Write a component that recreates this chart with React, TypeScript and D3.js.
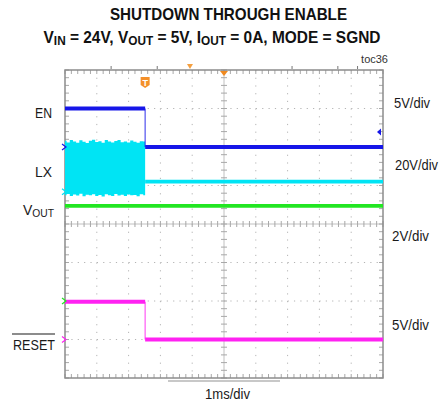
import React from "react";
import * as d3 from "d3";

const W = 443;
const H = 408;

// Horizontal: 10 divisions at 1 ms/div
const timeDomain: [number, number] = [0, 10];
const divDomain: [number, number] = [-4, 4];

// Channel settings: volts/div and ground position (div from screen centre)
const channelNames = ["EN", "LX", "VOUT", "RESET"];
const channelVoltsPerDiv = [5, 20, 2, 5];
const channelGroundDiv = [2.0, 0.84, -2.0, -3.0];
const channelColors = ["#1616e8", "#00e4f4", "#22e622", "#ff22f2"];

// EN (5V/div)
const enTime = [0, 2.52, 2.52, 10];
const enVolts = [5.0, 5.0, 0.0, 0.0];
const enTriggerLevel = 1.95;

// LX (20V/div): switching envelope before shutdown, then steady level
const lxBandTime = [0, 0.1, 0.2, 0.3, 0.4, 0.5, 0.6, 0.7, 0.8, 0.9, 1.0, 1.1, 1.2, 1.3, 1.4, 1.5, 1.6, 1.7, 1.8, 1.9, 2.0, 2.1, 2.2, 2.3, 2.4, 2.52];
const lxBandHigh = [26.4, 25.6, 26.9, 26.0, 25.4, 26.7, 25.9, 25.3, 26.5, 27.0, 25.8, 26.2, 25.4, 26.8, 26.0, 25.6, 26.3, 26.9, 25.7, 26.1, 25.5, 26.6, 25.9, 25.4, 26.2, 26.0];
const lxBandLow = [-1.8, -1.2, -2.3, -1.5, -2.0, -1.1, -2.4, -1.6, -1.9, -1.3, -2.2, -1.7, -2.5, -1.4, -1.8, -2.2, -1.2, -2.0, -1.6, -2.3, -1.5, -1.9, -1.7, -2.4, -1.3, -1.8];
const lxTime = [2.52, 10];
const lxVolts = [5.2, 5.2];

// VOUT (2V/div)
const voutTime = [0, 10];
const voutVolts = [4.94, 4.94];

// RESET (5V/div)
const resetTime = [0, 2.52, 2.52, 10];
const resetVolts = [4.9, 4.9, 0.0, 0.0];

// Scope marks along the top edge (ms)
const topMarks = [1.45, 2.9, 7.14, 8.58, 9.2];
const triggerTime = 2.52;
const orangeMarkTimes = [3.93, 5.0];

const rightLabels = ["5V/div", "20V/div", "2V/div", "5V/div"];

const FONT = "'Liberation Sans', Arial, sans-serif";

export default function App() {
  const L = 65, R = 383, T = 70, B = 378;
  const x = d3.scaleLinear().domain(timeDomain).range([L, R]);
  const yDiv = d3.scaleLinear().domain(divDomain).range([B, T]);
  const chY = (ch: number, v: number) => yDiv(channelGroundDiv[ch] + v / channelVoltsPerDiv[ch]);

  const cx = x(5);
  const cy = yDiv(0);
  const xStep = (x(1) - x(0)) * 0.2;
  const yStep = (yDiv(0) - yDiv(1)) * 0.2;

  const line = d3.line<[number, number]>().x((d) => d[0]).y((d) => d[1]);

  const stepTrace = (ch: number, ts: number[], vs: number[], key: string) => {
    const segs: JSX.Element[] = [];
    for (let i = 0; i < ts.length - 1; i++) {
      const p0: [number, number] = [x(ts[i]), chY(ch, vs[i])];
      const p1: [number, number] = [x(ts[i + 1]), chY(ch, vs[i + 1])];
      const vertical = ts[i] === ts[i + 1];
      segs.push(
        <path
          key={key + i}
          d={line([p0, p1]) || ""}
          stroke={channelColors[ch]}
          strokeWidth={vertical ? 1.2 : 3.8}
          strokeOpacity={vertical ? 0.75 : 1}
          fill="none"
        />
      );
    }
    return segs;
  };

  const band = d3
    .area<number>()
    .x((_, i) => x(lxBandTime[i]))
    .y0((_, i) => chY(1, lxBandLow[i]))
    .y1((_, i) => chY(1, lxBandHigh[i]))
    .curve(d3.curveStep);

  const xMinor = d3.range(0, 10.001, 0.2);
  const yMinor = d3.range(-4, 4.001, 0.2);

  const gridColor = "#b4b4b4";

  return (
    <svg width={W} height={H} style={{ position: "absolute", left: 0, top: 0, background: "#fff" }} fontFamily={FONT}>
      <rect x={0} y={0} width={W} height={H} fill="#fff" />
      {/* Title */}
      <g transform="translate(228.5,20) scale(0.894,1)">
        <text x={0} y={0} textAnchor="middle" fontWeight="bold" fontSize={17} fill="#111">
          SHUTDOWN THROUGH ENABLE
        </text>
      </g>
      <g transform="translate(212,43) scale(0.909,1)">
        <text x={0} y={0} textAnchor="middle" fontWeight="bold" fontSize={17} fill="#111">
          V<tspan fontSize={13} dy={1.5}>IN</tspan>
          <tspan dy={-1.5}> = 24V, V</tspan>
          <tspan fontSize={13} dy={1.5}>OUT</tspan>
          <tspan dy={-1.5}> = 5V, I</tspan>
          <tspan fontSize={13} dy={1.5}>OUT</tspan>
          <tspan dy={-1.5}> = 0A, MODE = SGND</tspan>
        </text>
      </g>
      <text x={388} y={63} textAnchor="end" fontSize={11} fill="#333">
        toc36
      </text>

      {/* Dotted graticule */}
      {d3.range(1, 10).filter((i) => i !== 5).map((i) => (
        <line key={"gv" + i} x1={x(i)} x2={x(i)} y1={T} y2={B} stroke={gridColor} strokeWidth={1} strokeDasharray={`1.2 ${yStep - 1.2}`} />
      ))}
      {d3.range(-3, 4).filter((j) => j !== 0).map((j) => (
        <line key={"gh" + j} x1={L} x2={R} y1={yDiv(j)} y2={yDiv(j)} stroke={gridColor} strokeWidth={1} strokeDasharray={`1.2 ${xStep - 1.2}`} />
      ))}
      {/* Centre crosshair */}
      <line x1={cx} x2={cx} y1={T} y2={B} stroke="#c0c0c0" strokeWidth={1} />
      <line x1={L} x2={R} y1={cy} y2={cy} stroke="#c0c0c0" strokeWidth={1} />
      {xMinor.map((t, i) => (
        <g key={"xm" + i}>
          <line x1={x(t)} x2={x(t)} y1={cy - 3} y2={cy + 3} stroke="#a8a8a8" />
          <line x1={x(t)} x2={x(t)} y1={T} y2={T + 4} stroke="#a8a8a8" />
          <line x1={x(t)} x2={x(t)} y1={B - 4} y2={B} stroke="#a8a8a8" />
        </g>
      ))}
      {yMinor.map((v, i) => (
        <g key={"ym" + i}>
          <line x1={cx - 3} x2={cx + 3} y1={yDiv(v)} y2={yDiv(v)} stroke="#a8a8a8" />
          <line x1={L} x2={L + 4} y1={yDiv(v)} y2={yDiv(v)} stroke="#a8a8a8" />
          <line x1={R - 4} x2={R} y1={yDiv(v)} y2={yDiv(v)} stroke="#a8a8a8" />
        </g>
      ))}
      <rect x={L} y={T} width={R - L} height={B - T} fill="none" stroke="#8c8c8c" strokeWidth={1.5} />
      <rect x={168} y={380} width={112} height={2} fill="#c8c8c8" />

      {/* Top marks */}
      {topMarks.map((t, i) => (
        <line key={"tm" + i} x1={x(t)} x2={x(t)} y1={T - 4} y2={T - 1} stroke="#777" strokeWidth={1} />
      ))}
      <path d={`M${x(orangeMarkTimes[0]) - 3},${T - 6} L${x(orangeMarkTimes[0]) + 3},${T - 6} L${x(orangeMarkTimes[0])},${T - 1} Z`} fill="#f5a040" />
      <path d={`M${x(orangeMarkTimes[1]) - 4},${T + 1} L${x(orangeMarkTimes[1]) + 4},${T + 1} L${x(orangeMarkTimes[1])},${T + 6} Z`} fill="#f08a20" />
      <g transform={`translate(${x(triggerTime)},${T + 7})`}>
        <path d="M-4.5,0 H4.5 V8 L0,11 L-4.5,8 Z" fill="#f4902a" />
        <text x={0} y={8.5} textAnchor="middle" fontSize={9} fontWeight="bold" fill="#fff">T</text>
      </g>

      {/* LX switching band */}
      <path d={band(lxBandTime) || ""} fill={channelColors[1]} />
      {stepTrace(1, lxTime, lxVolts, "lx")}
      {stepTrace(0, enTime, enVolts, "en")}
      {stepTrace(2, voutTime, voutVolts, "vo")}
      {stepTrace(3, resetTime, resetVolts, "rs")}

      {/* Ground markers */}
      {channelNames.map((n, ch) => {
        const gy = chY(ch, 0);
        return <path key={"gm" + n} d={`M${L - 3},${gy - 3} L${L + 1},${gy} L${L - 3},${gy + 3}`} fill="none" stroke={channelColors[ch]} strokeWidth={1.2} />;
      })}
      {/* Trigger level marker */}
      <path d={`M${R - 6},${chY(0, enTriggerLevel)} L${R - 2},${chY(0, enTriggerLevel) - 3.5} L${R - 2},${chY(0, enTriggerLevel) + 3.5} Z`} fill={channelColors[0]} />

      {/* Left labels */}
      <text x={52} y={118} textAnchor="end" fontSize={15} textLength={17} lengthAdjust="spacingAndGlyphs" fill="#1a1a1a">EN</text>
      <text x={52} y={177} textAnchor="end" fontSize={15} textLength={17} lengthAdjust="spacingAndGlyphs" fill="#1a1a1a">LX</text>
      <text x={23} y={215} fontSize={15} textLength={31} lengthAdjust="spacingAndGlyphs" fill="#1a1a1a">
        V<tspan fontSize={11} dy={1.5}>OUT</tspan>
      </text>
      <text x={13} y={350} fontSize={15} textLength={42} lengthAdjust="spacingAndGlyphs" fill="#1a1a1a">RESET</text>
      <line x1={12} x2={55} y1={334} y2={334} stroke="#1a1a1a" strokeWidth={1.2} />

      {/* Right labels */}
      <text x={394} y={108} fontSize={14} textLength={36} lengthAdjust="spacingAndGlyphs" fill="#1a1a1a">{rightLabels[0]}</text>
      <text x={395} y={170} fontSize={14} textLength={43} lengthAdjust="spacingAndGlyphs" fill="#1a1a1a">{rightLabels[1]}</text>
      <text x={392} y={241} fontSize={14} textLength={37} lengthAdjust="spacingAndGlyphs" fill="#1a1a1a">{rightLabels[2]}</text>
      <text x={392} y={330} fontSize={14} textLength={37} lengthAdjust="spacingAndGlyphs" fill="#1a1a1a">{rightLabels[3]}</text>

      <text x={205} y={399} fontSize={15} textLength={45} lengthAdjust="spacingAndGlyphs" fill="#1a1a1a">1ms/div</text>
    </svg>
  );
}
